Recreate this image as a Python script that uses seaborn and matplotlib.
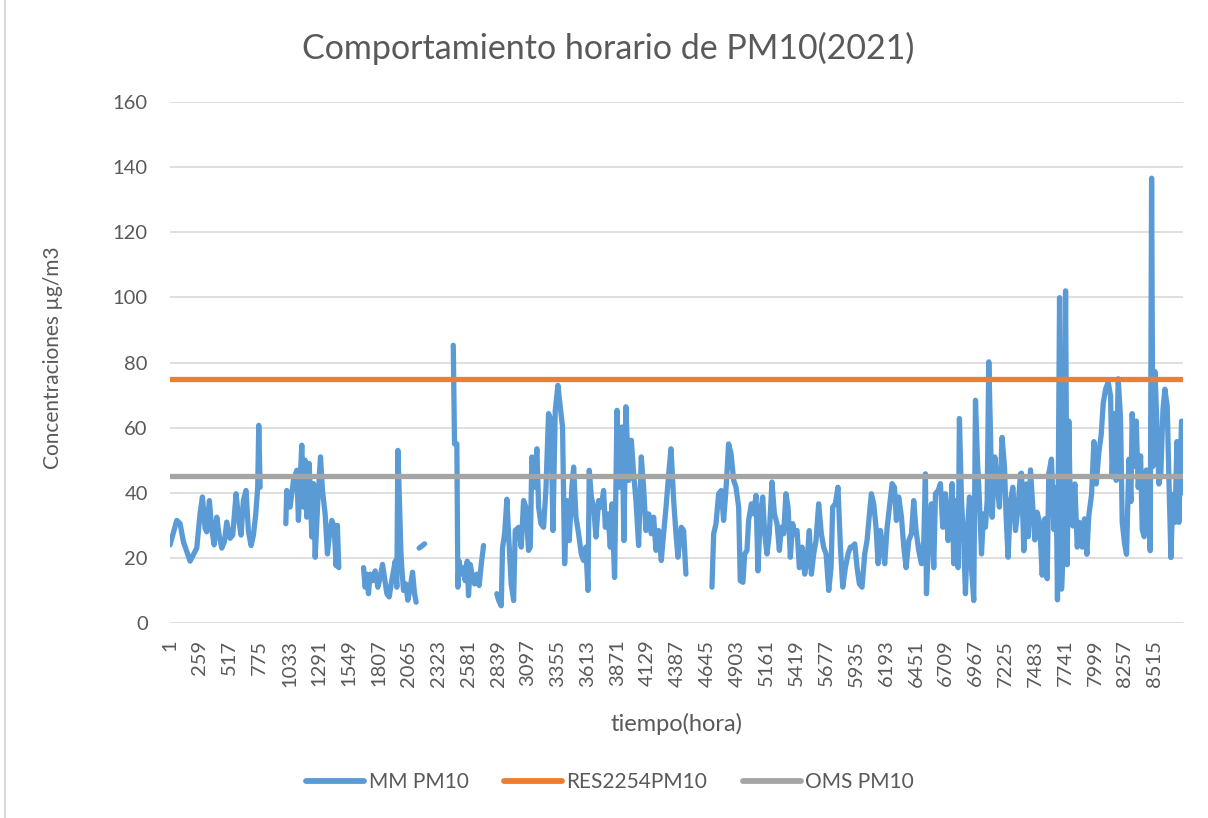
import numpy as np
import pandas as pd
import matplotlib
matplotlib.use('Agg')
import matplotlib.pyplot as plt
import seaborn as sns
from matplotlib.lines import Line2D

# Datos: hora del año y concentracion PM10 (µg/m3)
# Cada tramo es un bloque continuo de mediciones (entre tramos faltan datos)
horas_1 = [1, 59, 88, 116, 145, 174, 203, 232, 260, 281, 304, 318, 341, 361, 382, 405, 425,
           448, 471, 491, 520, 543, 572, 592, 615, 635, 658, 679, 702, 722, 742, 759, 768, 780]
pm10_1 = [24, 31.5, 30.5, 25, 22, 19, 21, 23, 33.5, 38.7, 29, 28, 37.6, 29, 24, 32.5, 27,
          23, 25, 31, 26, 27, 39.7, 32.5, 27, 37.6, 40.7, 28, 23.8, 27, 33.5, 41.7, 60.7, 41.7]

horas_2 = [1002, 1010, 1039, 1068, 1097, 1111, 1140, 1155, 1169, 1183, 1204, 1227, 1241,
           1256, 1279, 1302, 1319, 1342, 1362, 1380, 1400, 1420, 1437, 1448, 1460]
pm10_2 = [30.5, 40.7, 35.6, 43.8, 46.9, 31.5, 54.6, 35.6, 50, 32.5, 49, 26.4, 42.8,
          20.2, 37.6, 51, 40.7, 33.5, 21.2, 27.4, 31.5, 29.4, 17.6, 30, 17]

horas_3 = [1674, 1688, 1703, 1717, 1731, 1752, 1775, 1798, 1818, 1838, 1855, 1876, 1896, 1913,
           1933, 1948, 1962, 1971, 1982, 1997, 2005, 2020, 2040, 2057, 2078, 2098, 2115, 2129]
pm10_3 = [17, 11, 15, 9, 15, 13, 16, 11, 14, 18, 14, 9, 8, 12,
          16, 19, 11, 53, 40.7, 22, 17, 10, 12, 7, 11, 15.6, 9, 6.4]

horas_4 = [2155, 2202]
pm10_4 = [23, 24.3]

horas_5 = [2450, 2461, 2481, 2490, 2501, 2519, 2539, 2553, 2571, 2582, 2597, 2617, 2634,
           2654, 2674, 2692, 2712]
pm10_5 = [85.3, 55, 55, 11, 19, 15, 17, 13, 19, 8.4, 18, 14, 12, 15, 11.5, 18, 23.8]

horas_6 = [2827, 2842, 2865, 2876, 2894, 2914, 2928, 2951, 2972, 2986, 3015, 3038, 3058, 3078,
           3101, 3116, 3130, 3153, 3173, 3188, 3208, 3231, 3251, 3274, 3295, 3312, 3332, 3355,
           3375, 3395, 3413, 3433, 3453, 3476, 3491, 3511, 3534, 3557, 3577, 3597, 3615, 3626,
           3644, 3664, 3684, 3707, 3730, 3750, 3765, 3788, 3808, 3822, 3845, 3866, 3886, 3909,
           3926, 3943, 3967, 3990, 4010, 4030, 4053, 4076, 4096, 4116, 4140, 4163, 4183, 4203,
           4226, 4249, 4269, 4290, 4313, 4333, 4356, 4376, 4393, 4422, 4442, 4462]
pm10_6 = [9, 7, 5.3, 23, 27.4, 38, 27.4, 12, 6.9, 28.4, 29.4, 23.3, 37.6, 35.6,
          22.3, 23.3, 51, 41.7, 53.5, 35.6, 30.5, 29.4, 40.7, 64.3, 62.3, 28.4, 65.3, 73,
          66.4, 60.2, 18.2, 37.6, 25.3, 41.7, 47.9, 32.5, 27.4, 21.2, 19.2, 23.3, 10, 46.9,
          38.7, 35.6, 26.4, 37.6, 35.6, 40.7, 29.4, 33.5, 23.3, 36.6, 14, 65.3, 41.7, 60.2,
          25.3, 66.4, 43.8, 56.1, 45.8, 37.6, 23.8, 51, 41.7, 28.4, 33.5, 27.4, 32.5, 22.3,
          28.4, 19.2, 27.4, 35.6, 45.8, 53.5, 37.6, 27.4, 20.2, 29.4, 28.4, 15]

horas_7 = [4687, 4702, 4722, 4745, 4768, 4788, 4808, 4831, 4852, 4875, 4895, 4918, 4932, 4955,
           4970, 4990, 5004, 5028, 5048, 5068, 5085, 5105, 5126, 5143, 5163, 5183, 5206, 5227,
           5250, 5270, 5287, 5307, 5327, 5345, 5365, 5385, 5402, 5423, 5443, 5466, 5489, 5509,
           5529, 5547, 5567, 5587, 5610, 5633, 5653, 5674, 5697, 5717, 5731, 5754, 5777, 5798,
           5818, 5841, 5864, 5884]
pm10_7 = [11, 27.4, 30.5, 39.7, 40.7, 31.5, 40.7, 55, 52, 43.8, 41.7, 35.6, 13, 12.5,
          21.2, 22.3, 31.5, 36.6, 33.5, 39.2, 16, 33.5, 38.7, 27.4, 21.2, 27.4, 43.3, 33.5,
          30.5, 22.3, 29.4, 27.4, 39.7, 35.6, 20.2, 30.5, 27.4, 28.4, 17, 23.3, 15, 19.2,
          28.4, 15, 21.2, 25.3, 36.6, 27.4, 23.3, 21.2, 10, 17, 35.6, 36.6, 41.7, 23.3,
          11, 17, 21.2, 23.3]

horas_8 = [5899, 5922, 5942, 5962, 5985, 6008, 6028, 6049, 6066, 6086, 6106, 6124, 6144, 6164,
           6181, 6202, 6222, 6245, 6265, 6282, 6302, 6326, 6346, 6366, 6389, 6412, 6432, 6452,
           6475, 6499, 6519, 6533, 6542, 6562, 6585, 6605, 6620, 6643, 6663, 6683, 6706, 6729,
           6749, 6764, 6778, 6798, 6816, 6827, 6845, 6865, 6879, 6897, 6914, 6931, 6951, 6966,
           6983, 7000, 7018, 7035, 7052, 7067, 7081, 7096, 7110, 7133, 7153, 7173, 7196, 7217,
           7231, 7248, 7269, 7289, 7312, 7335, 7355]
pm10_8 = [23.3, 24.3, 17, 12, 11, 21.2, 25.3, 33.5, 39.7, 36.6, 29.4, 18.2, 28.4, 23.3,
          18.2, 29.4, 35.6, 42.8, 41.7, 31.5, 38.7, 32.5, 23.3, 17, 25.3, 27.4, 37.6, 28.4,
          22.3, 18.2, 25.3, 45.8, 9, 27.4, 36.6, 17, 39.7, 40.7, 42.8, 29.4, 39.7, 25.3,
          33.5, 42.8, 18.2, 37.6, 17, 62.8, 37.6, 24.3, 9, 28.4, 38.7, 17, 6.9, 68.4,
          50, 37.6, 21.2, 33.5, 29.4, 37.6, 80.2, 58, 32.5, 51, 42.8, 35.6, 57, 47.9,
          32.5, 20.2, 37.6, 41.7, 28.4, 35.6, 45.8]

horas_9 = [7364, 7384, 7404, 7422, 7442, 7462, 7479, 7499, 7520, 7543, 7566, 7586, 7600, 7623,
           7644, 7664, 7675, 7693, 7710, 7730, 7745, 7759, 7773, 7788, 7808, 7825, 7846, 7866,
           7889, 7909, 7929, 7946, 7970, 7990, 8010, 8033, 8053, 8071, 8091, 8114, 8134, 8148,
           8166, 8183, 8200, 8220, 8235, 8255, 8272, 8293, 8310, 8321, 8342, 8356, 8373, 8394,
           8408, 8425, 8443, 8460, 8477, 8489, 8500, 8518, 8535, 8552, 8569, 8587, 8604, 8624,
           8639, 8656, 8673, 8691, 8708, 8725, 8748, 8760]
pm10_9 = [46, 22.2, 42.7, 26.5, 47, 35.2, 25.5, 34, 30.9, 14.7, 32, 13.6, 46, 50.3,
          28.7, 41.6, 7.1, 99.9, 10.4, 26.5, 102, 17.9, 62, 32, 29.8, 42.7, 23.3, 30.9,
          23.3, 32, 21.1, 33, 39.5, 55.7, 42.7, 52.4, 57.8, 67.5, 71.8, 74, 69.7, 44.9,
          64.3, 43.8, 75, 63.2, 30.9, 24.4, 21.1, 50.3, 37.3, 64.3, 48.1, 62, 41.6, 51.3,
          28.7, 26.5, 47, 37.3, 22.2, 136.6, 48.1, 77.2, 61, 42.7, 46, 65.4, 71.8, 66.5,
          43.8, 20.1, 39.5, 30.9, 55.7, 30.9, 62, 40]

# Limites normativos
res2254_pm10 = 75
oms_pm10 = 45
horas_limites = [1, 8760]

etiquetas_x = [1, 259, 517, 775, 1033, 1291, 1549, 1807, 2065, 2323, 2581, 2839, 3097,
               3355, 3613, 3871, 4129, 4387, 4645, 4903, 5161, 5419, 5677, 5935, 6193,
               6451, 6709, 6967, 7225, 7483, 7741, 7999, 8257, 8515]

# Tramos continuos (7, 8 y 9 van unidos)
tramos = [(horas_1, pm10_1, 1), (horas_2, pm10_2, 2), (horas_3, pm10_3, 3),
          (horas_4, pm10_4, 4), (horas_5, pm10_5, 5), (horas_6, pm10_6, 6),
          (horas_7, pm10_7, 7), (horas_8, pm10_8, 7), (horas_9, pm10_9, 7)]
df = pd.concat([pd.DataFrame({'hora': h, 'pm10': v, 'tramo': t}) for h, v, t in tramos],
               ignore_index=True)
df_res = pd.DataFrame({'hora': horas_limites, 'valor': [res2254_pm10] * 2})
df_oms = pd.DataFrame({'hora': horas_limites, 'valor': [oms_pm10] * 2})

AZUL = '#5B9BD5'
NARANJA = '#ED7D31'
GRIS = '#A5A5A5'
TEXTO = '#595959'

sns.set_style("white")
plt.rcParams['font.family'] = ['Lato', 'DejaVu Sans']

W, H = 1208, 818
fig = plt.figure(figsize=(W / 100, H / 100), dpi=100)
ax = fig.add_axes([170 / W, 1 - 623 / H, (1183 - 170) / W, (623 - 102) / H])

sns.lineplot(data=df, x='hora', y='pm10', units='tramo', estimator=None, color=AZUL,
             lw=3.8, ax=ax, solid_capstyle='round', solid_joinstyle='round', sort=False)
sns.lineplot(data=df_res, x='hora', y='valor', color=NARANJA, lw=3.8, ax=ax)
sns.lineplot(data=df_oms, x='hora', y='valor', color=GRIS, lw=3.8, ax=ax)

ax.set_xlim(0.5, 8760.5)
ax.set_ylim(0, 160)
ax.set_yticks(range(0, 161, 20))
ax.set_xticks(etiquetas_x)
ax.set_xticklabels([str(e) for e in etiquetas_x], rotation=90)
ax.yaxis.grid(True, color='#D9D9D9', lw=1.2)
ax.xaxis.grid(False)
ax.set_axisbelow(True)
for s in ax.spines.values():
    s.set_visible(False)
ax.tick_params(axis='both', length=0, labelsize=14.5, colors=TEXTO)
ax.tick_params(axis='y', pad=16)
ax.tick_params(axis='x', pad=12)

ax.set_xlabel('tiempo(hora)', fontsize=17, color=TEXTO)
ax.set_ylabel('Concentraciones µg/m3', fontsize=15, color=TEXTO)
ax.xaxis.set_label_coords(0.5, -(713 - 623) / 521)
ax.yaxis.set_label_coords(-(170 - 63) / 1013, 0.51)

fig.text(608 / W, 1 - 48 / H, 'Comportamiento horario de PM10(2021)', ha='center',
         va='center', fontsize=24.5, color=TEXTO)

handles = [Line2D([], [], color=AZUL, lw=4.2, solid_capstyle='round'),
           Line2D([], [], color=NARANJA, lw=4.2, solid_capstyle='round'),
           Line2D([], [], color=GRIS, lw=4.2, solid_capstyle='round')]
leg = fig.legend(handles, ['MM PM10', 'RES2254PM10', 'OMS PM10'], loc='center',
                 bbox_to_anchor=(610 / W, 1 - 782 / H), ncol=3, frameon=False,
                 fontsize=15, handlelength=2.8, handletextpad=0.2, columnspacing=1.7)
for t in leg.get_texts():
    t.set_color(TEXTO)

# borde izquierdo del area del grafico
fig.add_artist(Line2D([5 / W, 5 / W], [0, 1], transform=fig.transFigure,
                      color='#D9D9D9', lw=1.5))

fig.savefig('out.png', dpi=100)
